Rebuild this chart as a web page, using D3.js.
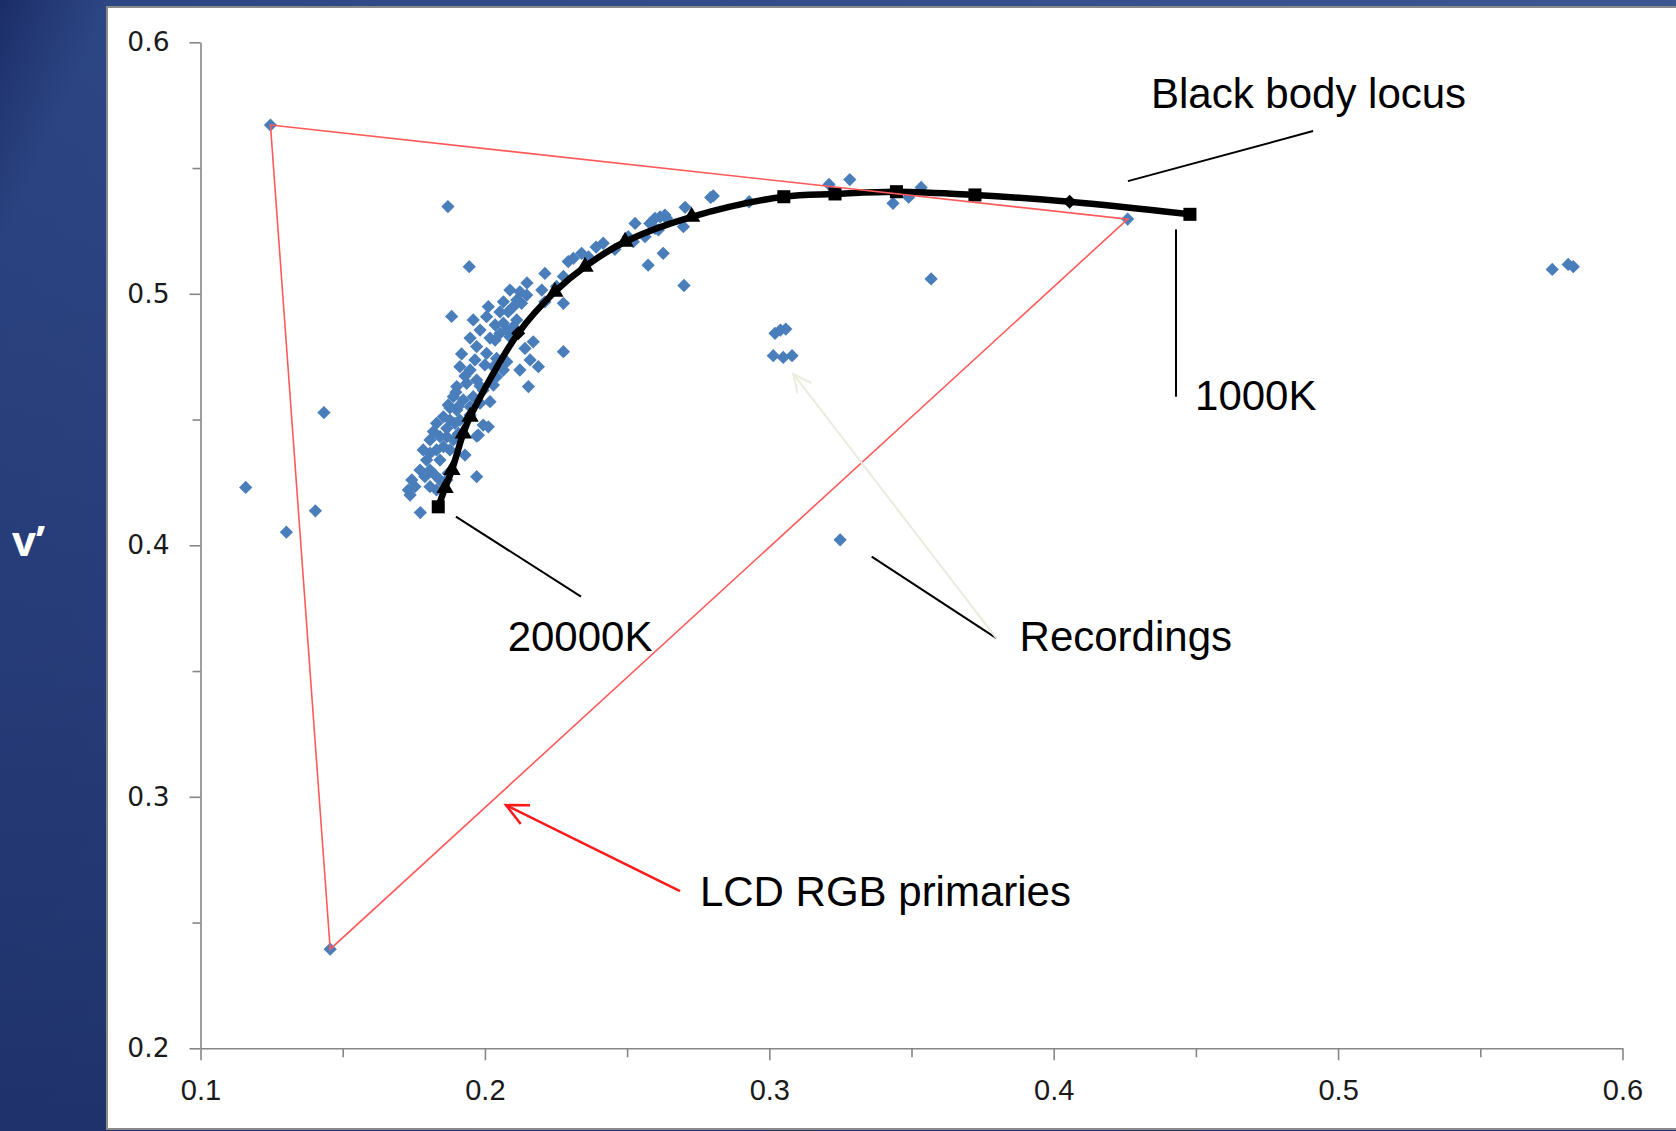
<!DOCTYPE html>
<html>
<head>
<meta charset="utf-8">
<script src="https://cdn.jsdelivr.net/npm/d3@7"></script>
<style>
  body { margin: 0; background: #1d3170; }
  svg { display: block; }
</style>
</head>
<body>
<div id="chart"></div>
<script>
// measured u'v' recordings (blue diamonds)
const recordings = [
  [0.1246,0.5671],[0.4260,0.5297],[0.1456,0.2394],[0.1159,0.4230],[0.1302,0.4052],
  [0.1404,0.4137],[0.1434,0.4528],[0.3249,0.4022],[0.3569,0.5059],[0.5753,0.5097],
  [0.5809,0.5117],[0.5827,0.5108],[0.1773,0.4130],[0.1870,0.5347],[0.1945,0.5108],
  [0.1883,0.4910],
  [0.3020,0.4843],[0.3039,0.4856],[0.3058,0.4860],[0.3014,0.4754],[0.3049,0.4747],[0.3080,0.4754],
  [0.2803,0.5389],[0.2794,0.5383],[0.2929,0.5366],[0.3210,0.5435],[0.3283,0.5454],
  [0.3435,0.5360],[0.3490,0.5384],[0.3534,0.5423],[0.2704,0.5344],[0.2698,0.5267],
  [0.2627,0.5161],[0.2574,0.5114],[0.2700,0.5033],[0.2528,0.5280],[0.2580,0.5280],
  [0.2598,0.5300],[0.2616,0.5306],[0.2633,0.5313],[0.2639,0.5300],[0.2598,0.5260],
  [0.2563,0.5227],[0.2610,0.5254],[0.2504,0.5227],[0.2522,0.5207],[0.2499,0.5214],
  [0.2416,0.5201],[0.2457,0.5177],[0.2340,0.5161],[0.2311,0.5141],[0.2293,0.5128],
  [0.2364,0.5147],[0.2276,0.5069],[0.2211,0.5081],[0.2252,0.5029],[0.2200,0.5015],
  [0.2211,0.4968],[0.2276,0.4962],[0.2123,0.5008],[0.2147,0.4995],[0.2112,0.4975],
  [0.2129,0.4962],[0.2100,0.4949],[0.2082,0.4929],[0.2065,0.4968],[0.2012,0.4949],
  [0.1959,0.4896],[0.2006,0.4909],[0.2065,0.4883],[0.2077,0.4856],[0.2053,0.4843],
  [0.2036,0.4816],[0.2088,0.4829],[0.2100,0.4869],[0.2112,0.4896],[0.2170,0.4809],
  [0.2141,0.4783],[0.2276,0.4770],[0.1918,0.4761],[0.1971,0.4790],[0.2006,0.4763],
  [0.2041,0.4743],[0.2030,0.4710],[0.2065,0.4697],[0.2077,0.4730],[0.2123,0.4697],
  [0.2159,0.4737],[0.2188,0.4710],[0.2153,0.4631],[0.1912,0.4710],[0.1948,0.4697],
  [0.1971,0.4657],[0.1936,0.4644],[0.1901,0.4631],[0.1889,0.4591],[0.1924,0.4578],
  [0.1959,0.4591],[0.1994,0.4617],[0.2030,0.4637],[0.2041,0.4670],[0.1871,0.4558],
  [0.1906,0.4551],[0.1948,0.4551],[0.1983,0.4565],[0.2018,0.4571],[0.1877,0.4546],
  [0.1901,0.4538],[0.1854,0.4511],[0.1830,0.4485],[0.1877,0.4498],[0.1866,0.4465],
  [0.1895,0.4485],[0.1819,0.4452],[0.1842,0.4432],[0.1807,0.4419],[0.1866,0.4432],
  [0.1889,0.4419],[0.1907,0.4445],[0.1994,0.4478],[0.2012,0.4471],[0.1977,0.4438],
  [0.1783,0.4379],[0.1807,0.4366],[0.1830,0.4379],[0.1854,0.4392],[0.1877,0.4379],
  [0.1795,0.4339],[0.1930,0.4359],[0.1772,0.4299],[0.1807,0.4299],[0.1825,0.4279],
  [0.1789,0.4273],[0.1842,0.4260],[0.1871,0.4286],[0.1866,0.4260],[0.1743,0.4260],
  [0.1731,0.4220],[0.1754,0.4233],[0.1807,0.4233],[0.1830,0.4220],[0.1971,0.4273],
  [0.1737,0.4200],[0.1971,0.4434],[0.1983,0.4856],[0.2018,0.4824],[0.1948,0.4824],
  [0.2000,0.4717],[0.1965,0.4737],[0.1930,0.4673],[0.1983,0.4633],[0.2036,0.4876],
  [0.1912,0.4498],[0.1842,0.4339],[0.1948,0.4518],[0.1898,0.4609],[0.2053,0.4928],
  [0.2148,0.5043],[0.2088,0.5015],[0.2391,0.5186]
];

// black body locus, 20000K -> 1000K
const locus = [
  [0.1836,0.4153],[0.1860,0.4228],[0.1884,0.4299],[0.1924,0.4445],[0.1948,0.4511],
  [0.2117,0.4843],[0.2246,0.5008],[0.2352,0.5108],[0.2493,0.5207],[0.2727,0.5306],
  [0.3051,0.5386],[0.3231,0.5397],[0.3447,0.5406],[0.3723,0.5393],[0.4056,0.5366],
  [0.4479,0.5316]
];
const locusMarker = ['square','triangle','triangle','triangle','triangle','diamond','triangle','triangle',
  'triangle','triangle','square','square','square','square','diamond','square'];

// LCD RGB primaries (closed triangle)
const lcdPrimaries = [[0.1246,0.5671],[0.4260,0.5297],[0.1456,0.2394]];

const xTicks = [0.1, 0.2, 0.3, 0.4, 0.5, 0.6];
const yTicks = [0.2, 0.3, 0.4, 0.5, 0.6];
const xMinor = [0.15, 0.25, 0.35, 0.45, 0.55];
const yMinor = [0.25, 0.35, 0.45, 0.55];

// callouts, in u'v' units
const labels = [
  { text: 'Black body locus', u: 0.4342, v: 0.5739 },
  { text: '1000K', u: 0.4497, v: 0.4536 },
  { text: '20000K', u: 0.2080, v: 0.3580 },
  { text: 'Recordings', u: 0.3880, v: 0.3580 },
  { text: 'LCD RGB primaries', u: 0.2756, v: 0.2564 }
];
const leaders = [
  [[0.4912,0.5647],[0.4261,0.5448]],
  [[0.4430,0.5256],[0.4430,0.4591]],
  [[0.1898,0.4114],[0.2338,0.3796]],
  [[0.3360,0.3955],[0.3798,0.3631]]
];
const paleArrow = [[0.3798,0.3631],[0.3085,0.4681]];
const redArrow = [[0.2686,0.2625],[0.2074,0.2967]];

const width = 1676;
const height = 1131;

const svg = d3.select('#chart').append('svg').attr('width', width).attr('height', height);

const defs = svg.append('defs');
const bg = defs.append('linearGradient').attr('id', 'bg').attr('x1', 0).attr('y1', 0).attr('x2', 1).attr('y2', 0.3);
bg.append('stop').attr('offset', '0%').attr('stop-color', '#1b2d69');
bg.append('stop').attr('offset', '6%').attr('stop-color', '#2d4684');
bg.append('stop').attr('offset', '100%').attr('stop-color', '#3e5892');
const bgv = defs.append('linearGradient').attr('id', 'bgv').attr('x1', 0).attr('y1', 0).attr('x2', 0).attr('y2', 1);
bgv.append('stop').attr('offset', '0%').attr('stop-color', '#1a2b66').attr('stop-opacity', 0.0);
bgv.append('stop').attr('offset', '100%').attr('stop-color', '#17275f').attr('stop-opacity', 0.7);

svg.append('rect').attr('width', width).attr('height', height).attr('fill', 'url(#bg)');
svg.append('rect').attr('width', width).attr('height', height).attr('fill', 'url(#bgv)');

// white plot panel
svg.append('rect')
  .attr('x', 107).attr('y', 7).attr('width', width).attr('height', 1122)
  .attr('fill', '#fff').attr('stroke', '#8a8a8a').attr('stroke-width', 2);

svg.append('text').attr('x', 12).attr('y', 556)
  .attr('font-family', 'Open Sans, sans-serif').attr('font-weight', 'bold')
  .attr('font-size', 42).attr('fill', '#fff').text('v\u2019');

const x = d3.scaleLinear().domain([0.1, 0.6]).range([200.5, 1622.5]);
const y = d3.scaleLinear().domain([0.2, 0.6]).range([1048.3, 42.3]);

// axes
const axisColor = '#868686';
const gy = svg.append('g').attr('transform', 'translate(200.5,0)')
  .call(d3.axisLeft(y).tickValues(yTicks).tickSize(11).tickSizeOuter(0).tickPadding(20).tickFormat(d3.format('.1f')));
gy.selectAll('text').attr('font-family', 'DejaVu Sans, sans-serif').attr('font-size', 26.5).attr('fill', '#1a1a1a');
svg.append('g').attr('transform', 'translate(200.5,0)')
  .call(d3.axisLeft(y).tickValues(yMinor).tickSize(8).tickSizeOuter(0).tickFormat(''))
  .call(g => g.select('.domain').remove());

const gx = svg.append('g').attr('transform', 'translate(0,1048.3)')
  .call(d3.axisBottom(x).tickValues(xTicks).tickSize(12).tickSizeOuter(0).tickPadding(19).tickFormat(d3.format('.1f')));
gx.selectAll('text').attr('font-family', 'Liberation Sans, Arial, sans-serif').attr('font-size', 29).attr('fill', '#1a1a1a');
svg.append('g').attr('transform', 'translate(0,1048.3)')
  .call(d3.axisBottom(x).tickValues(xMinor).tickSize(9).tickSizeOuter(0).tickFormat(''))
  .call(g => g.select('.domain').remove());

svg.selectAll('.domain, .tick line').attr('stroke', axisColor).attr('stroke-width', 1.6);

// recordings
svg.append('g').selectAll('path').data(recordings).enter().append('path')
  .attr('d', d3.symbol(d3.symbolSquare, 88)())
  .attr('transform', d => `translate(${x(d[0])},${y(d[1])}) rotate(45)`)
  .attr('fill', '#4a7ebb');

// black body locus
const line = d3.line().x(d => x(d[0])).y(d => y(d[1])).curve(d3.curveCatmullRom.alpha(0.5));
svg.append('path').datum(locus).attr('d', line)
  .attr('fill', 'none').attr('stroke', '#000').attr('stroke-width', 6.5).attr('stroke-linejoin', 'round');

const shapes = { square: d3.symbolSquare, triangle: d3.symbolTriangle, diamond: d3.symbolSquare };
svg.append('g').selectAll('path').data(locus).enter().append('path')
  .attr('d', (d, i) => d3.symbol(shapes[locusMarker[i]], locusMarker[i] === 'triangle' ? 130 : (locusMarker[i] === 'diamond' ? 100 : 170))())
  .attr('transform', (d, i) => `translate(${x(d[0])},${y(d[1])})` + (locusMarker[i] === 'diamond' ? ' rotate(45)' : ''))
  .attr('fill', '#000');

// LCD primaries triangle
svg.append('path').datum(lcdPrimaries)
  .attr('d', d3.line().x(d => x(d[0])).y(d => y(d[1])).curve(d3.curveLinearClosed))
  .attr('fill', 'none').attr('stroke', '#ff5a5a').attr('stroke-width', 1.6);

// callouts
svg.append('g').selectAll('line').data(leaders).enter().append('line')
  .attr('x1', d => x(d[0][0])).attr('y1', d => y(d[0][1]))
  .attr('x2', d => x(d[1][0])).attr('y2', d => y(d[1][1]))
  .attr('stroke', '#000').attr('stroke-width', 2);

function arrow(pts, color, w, len) {
  const x1 = x(pts[0][0]), y1 = y(pts[0][1]), x2 = x(pts[1][0]), y2 = y(pts[1][1]);
  const a = Math.atan2(y2 - y1, x2 - x1);
  const g = svg.append('g').attr('stroke', color).attr('stroke-width', w).attr('fill', 'none');
  g.append('line').attr('x1', x1).attr('y1', y1).attr('x2', x2).attr('y2', y2);
  g.append('path').attr('d', d3.line()([
    [x2 - len * Math.cos(a - 0.45), y2 - len * Math.sin(a - 0.45)],
    [x2, y2],
    [x2 - len * Math.cos(a + 0.45), y2 - len * Math.sin(a + 0.45)]
  ])).attr('stroke-linejoin', 'miter');
}
arrow(paleArrow, '#ecebdc', 2, 20);
arrow(redArrow, '#ff1a1a', 2.5, 24);

svg.append('g').selectAll('text').data(labels).enter().append('text')
  .attr('x', d => x(d.u)).attr('y', d => y(d.v))
  .attr('font-family', 'Liberation Sans, Arial, sans-serif').attr('font-size', 42).attr('fill', '#000')
  .text(d => d.text);
</script>
</body>
</html>
